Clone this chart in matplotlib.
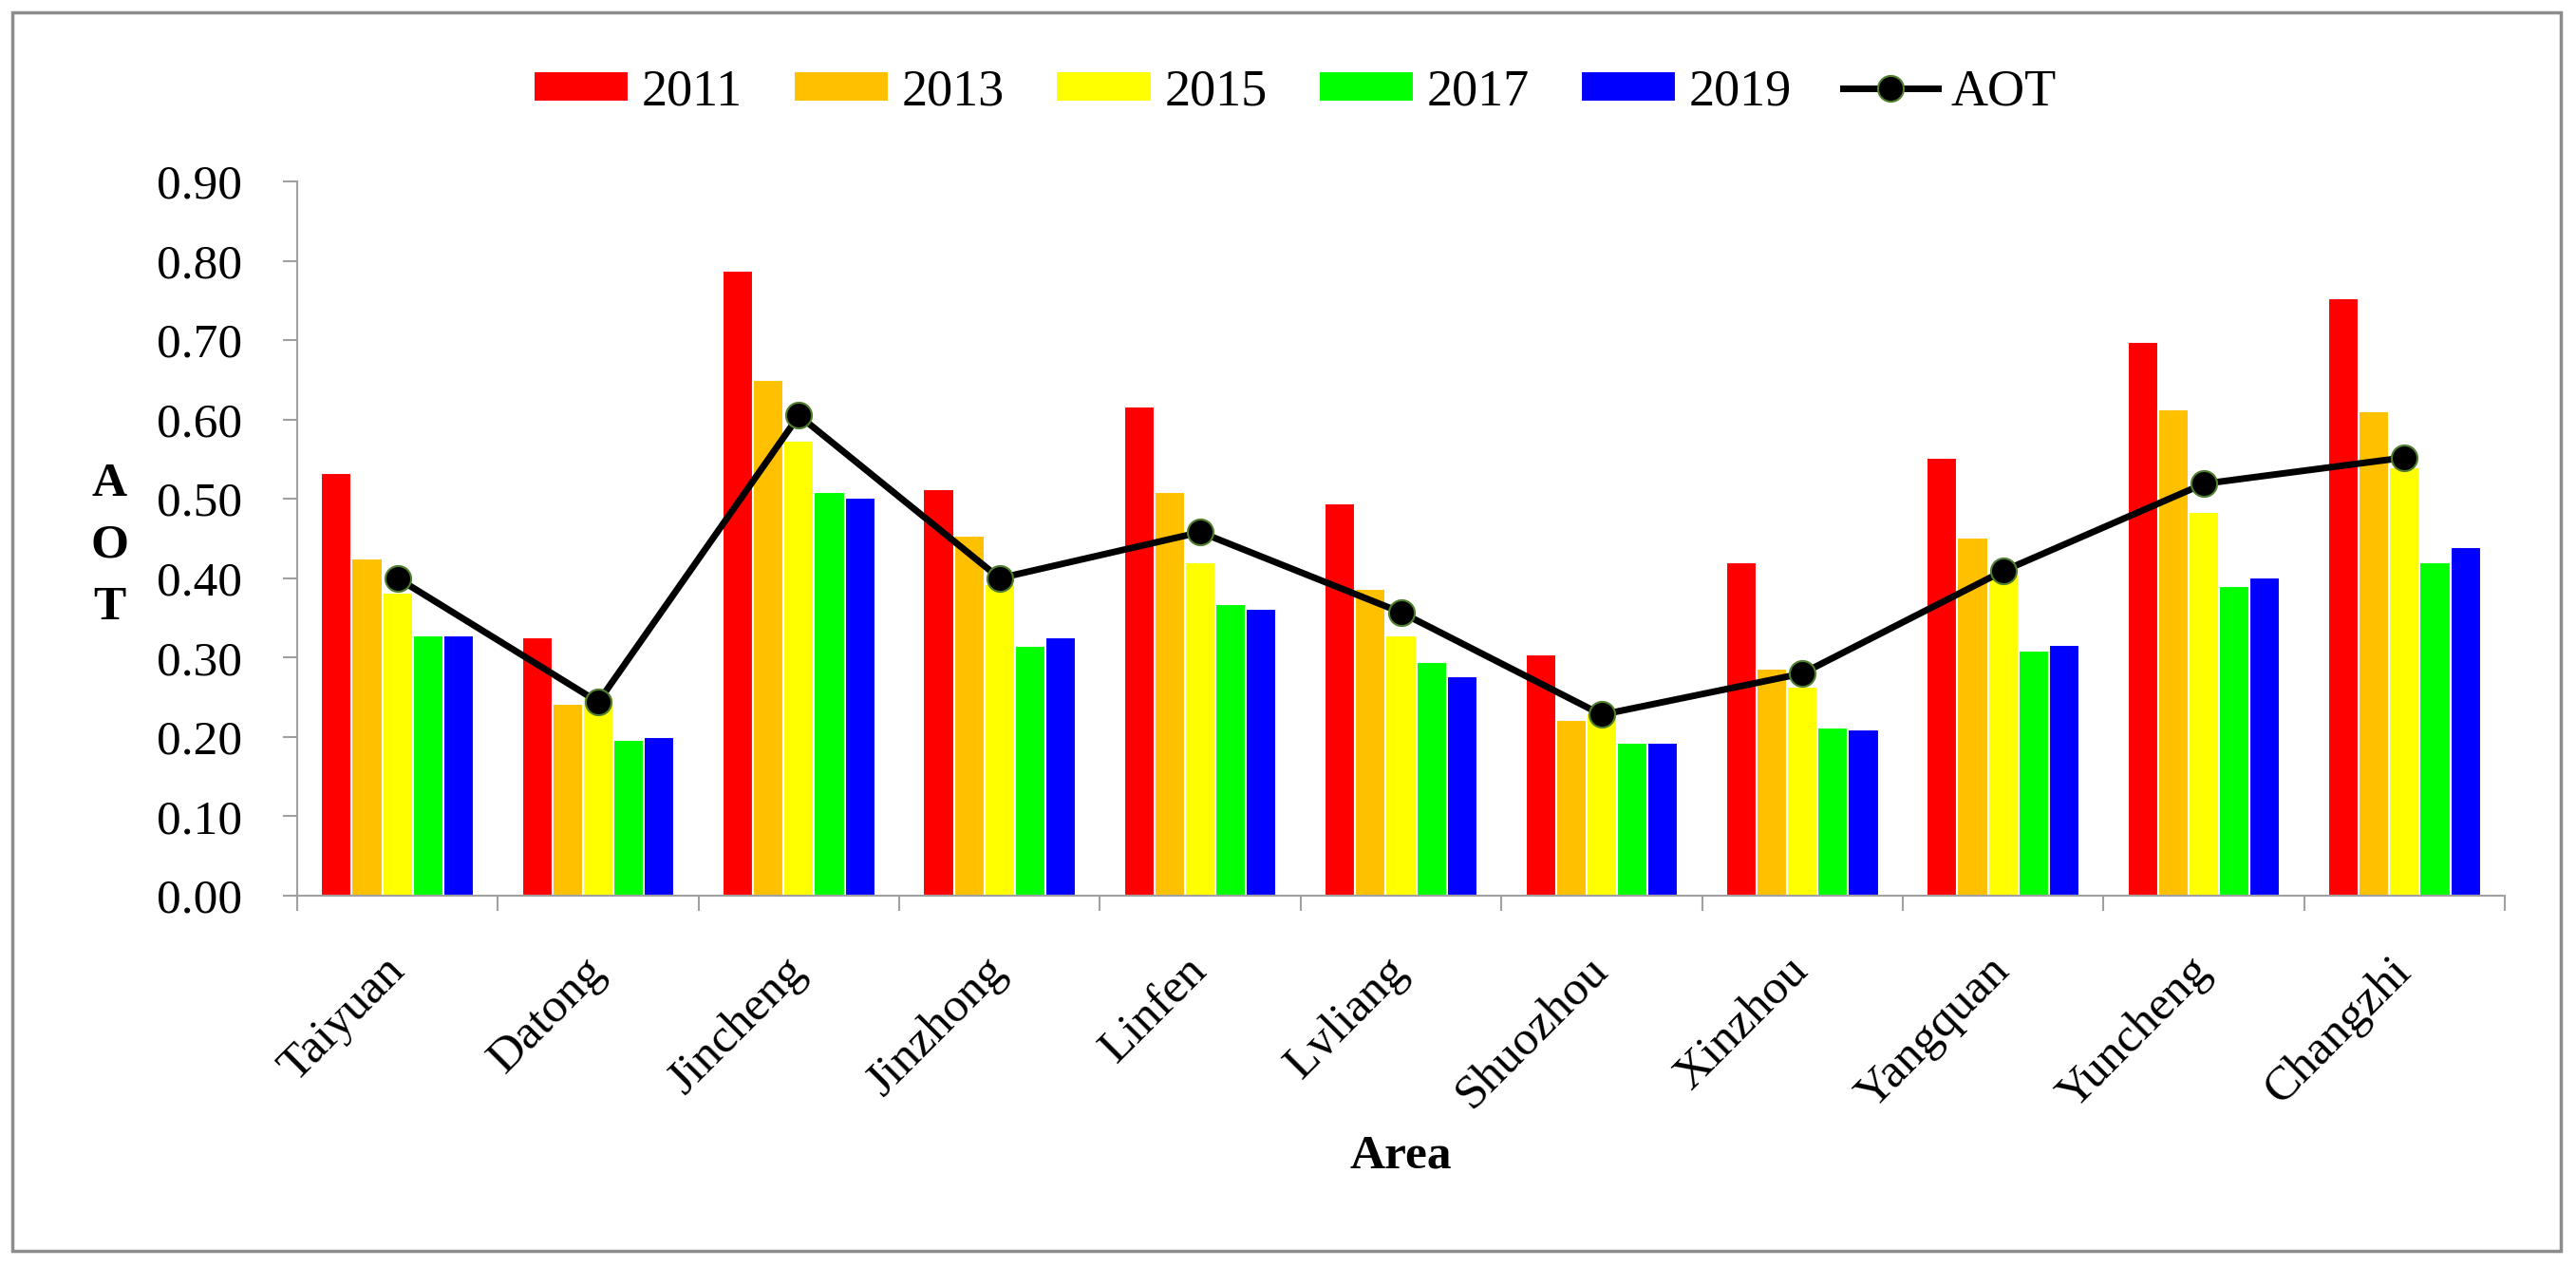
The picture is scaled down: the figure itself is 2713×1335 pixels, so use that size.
import numpy as np
import matplotlib
matplotlib.use("Agg")
from matplotlib import pyplot as plt
from matplotlib.patches import Rectangle

plt.rcParams['font.family'] = ['Liberation Serif', 'DejaVu Serif']

# data
areas = ["Taiyuan", "Datong", "Jincheng", "Jinzhong", "Linfen", "Lvliang",
         "Shuozhou", "Xinzhou", "Yangquan", "Yuncheng", "Changzhi"]
years = ["2011", "2013", "2015", "2017", "2019"]
v2011 = [0.533, 0.325, 0.787, 0.512, 0.616, 0.494, 0.304, 0.420, 0.552, 0.698, 0.753]
v2013 = [0.425, 0.242, 0.650, 0.454, 0.509, 0.387, 0.221, 0.286, 0.451, 0.613, 0.610]
v2015 = [0.382, 0.250, 0.573, 0.393, 0.420, 0.328, 0.230, 0.263, 0.405, 0.484, 0.540]
v2017 = [0.328, 0.196, 0.509, 0.315, 0.367, 0.294, 0.193, 0.212, 0.309, 0.390, 0.420]
v2019 = [0.328, 0.200, 0.502, 0.325, 0.362, 0.276, 0.193, 0.209, 0.316, 0.401, 0.439]
aot = [0.400, 0.244, 0.605, 0.400, 0.458, 0.357, 0.228, 0.280, 0.409, 0.519, 0.552]

series = [v2011, v2013, v2015, v2017, v2019]
colors = ["#FF0000", "#FFC000", "#FFFF00", "#00FF00", "#0000FF"]

W, H = 2713, 1335
fig = plt.figure(figsize=(W / 100, H / 100), dpi=100)
ax = fig.add_axes([313 / W, 1 - 943 / H, (2638 - 313) / W, (943 - 191) / H])

x = np.arange(len(areas))
bw = 0.152
handles = []
for i in range(len(series)):
    b = ax.bar(x + (i - 2) * bw, series[i], bw, color=colors[i],
               edgecolor="white", linewidth=1.5, zorder=2)
    handles.append(b)

ln, = ax.plot(x, aot, color="black", lw=5, marker="o", ms=19.5,
              mfc="black", mec="#4f7f2f", mew=1.5, zorder=5)
handles.append(ln)

ax.set_xlim(-0.5, len(areas) - 0.5)
ax.set_ylim(0, 0.9)
ax.set_yticks(np.arange(0, 0.91, 0.1))
ax.set_yticklabels(["%.2f" % t for t in np.arange(0, 0.91, 0.1)], fontsize=37)
ax.set_xticks(x)
ax.set_xticklabels(areas, fontsize=37, rotation=45, ha="right", va="center",
                   rotation_mode="anchor")
ax.set_xticks(np.arange(-0.5, len(areas), 1.0), minor=True)
ax.tick_params(axis="x", which="major", length=0, pad=52)
ax.tick_params(axis="x", which="minor", length=11.5, width=1.5, color="#a0a0a0")
ax.tick_params(axis="y", length=11, width=1.5, color="#a0a0a0", pad=31)

for s in ["top", "right"]:
    ax.spines[s].set_visible(False)
for s in ["left", "bottom"]:
    ax.spines[s].set_color("#a0a0a0")
    ax.spines[s].set_linewidth(1.5)

# vertical stacked y label
fig.text(115 / W, 1 - 575 / H, "A\nO\nT", fontsize=37, fontweight="bold",
         ha="center", va="center", linespacing=1.55)
fig.text(1475 / W, 1 - 1218 / H, "Area", fontsize=37, fontweight="bold",
         ha="center", va="center")

fig.legend(handles, years + ["AOT"], loc="center", ncol=6, frameon=False,
           bbox_to_anchor=(1364 / W, 1 - 97 / H), fontsize=39,
           handlelength=1.85, handleheight=0.55, handletextpad=0.25,
           columnspacing=1.0)

# outer frame
fig.patches.append(Rectangle((13 / W, 18 / H), (2697 - 13) / W, (1317 - 13) / H,
                             transform=fig.transFigure, fill=False,
                             edgecolor="#8c8c8c", lw=2.5))

fig.savefig("out.png", dpi=100)
